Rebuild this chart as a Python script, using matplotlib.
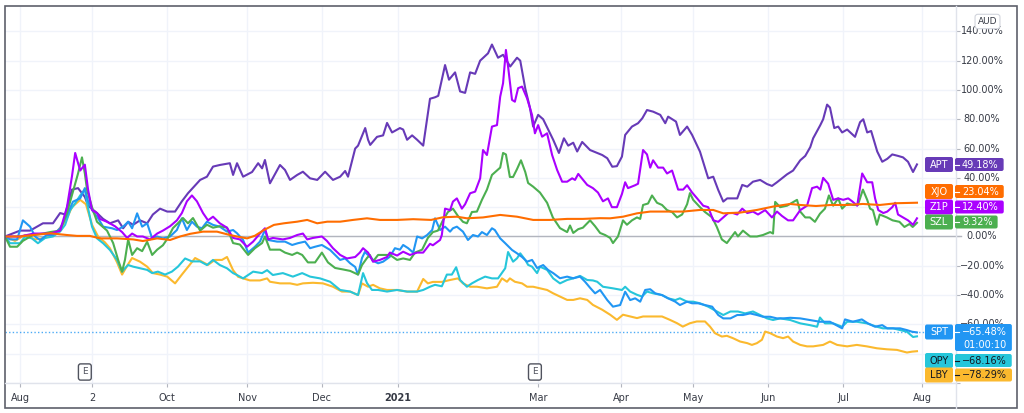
"""Relative performance chart (TradingView style): APT vs peers, Aug 2020 - Jul 2021."""

import matplotlib
matplotlib.use("Agg")
import matplotlib.pyplot as plt
from matplotlib.patches import FancyBboxPatch, Rectangle
from matplotlib.lines import Line2D
from matplotlib.transforms import IdentityTransform, Bbox


# ---------------------------------------------------------------------------
# Data: (trading-day index, % change)
# ---------------------------------------------------------------------------

apt = [(0, 0), (4.2, 4), (7, 4), (10.6, 9), (13.4, 9), (15.4, 16), (16.8, 15), (18.7, 32),
       (20.4, 33), (22.3, 27), (23.2, 21), (25.7, 16), (27.4, 12), (29.3, 9), (31.6, 11),
       (33, 5.6), (34.4, 10), (35.8, 8), (37.7, 11), (39.7, 9), (41.3, 15), (43.3, 19),
       (45.3, 17), (47.5, 17), (49.4, 24), (51.1, 29.5), (54.5, 38.6), (56.4, 40.8),
       (58.1, 47.7), (60, 48.8), (62.8, 50), (63.7, 42), (64.8, 50), (66.5, 40.8), (69, 44),
       (70.7, 50), (71.8, 46.5), (72.6, 52.2), (74, 36.3), (76.8, 48.8), (78.2, 45.4),
       (79.6, 38.6), (81.6, 42), (83.2, 44.2), (85.2, 39.7), (87.2, 38.6), (89.4, 44.2),
       (91.6, 38.6), (93.6, 40.8), (95, 44.7), (95.8, 40.8), (97.8, 60), (98.6, 62),
       (100.6, 74), (101.4, 66), (102, 62.5), (103.9, 68), (105.6, 69), (106.7, 77.5),
       (108.1, 71), (110.3, 74), (111.2, 73), (112.3, 66), (113.7, 69), (115.1, 66),
       (116.8, 62), (118.7, 94), (120.1, 95), (121, 96), (122.9, 117), (124, 107),
       (125.7, 112), (127.1, 99), (128.5, 98), (129.9, 112), (131.3, 111), (132.7, 120),
       (134.9, 125), (136, 131), (137.7, 122), (139.1, 124), (141.1, 116), (143, 122),
       (143.9, 120), (145.3, 101), (146.6, 88), (147.5, 75), (148.9, 83), (150.3, 80),
       (153.1, 66), (154.7, 57), (156.1, 67), (157.3, 62), (158.7, 64), (159.8, 58),
       (161.2, 64.5), (163.4, 59), (165.4, 57), (166.8, 55.6), (168.2, 53.4), (169.6, 47.6),
       (170.9, 48), (172.3, 54.5), (173.2, 69.3), (175.1, 75), (176.8, 77.3), (178, 80.7),
       (179.3, 86.3), (181, 85.2), (183, 83), (184.4, 77.3), (185.2, 81.8), (187.4, 78.4),
       (188.5, 69.3), (190.5, 75), (191.9, 69.3), (194.1, 57.9), (196.4, 39.7),
       (197.8, 40.8), (199.2, 31.7), (200.6, 23.8), (201.7, 26), (204.5, 26), (205.9, 35.2),
       (207.3, 34), (208.9, 37.4), (210.9, 38.6), (212.8, 35.8), (214.2, 34.5), (215.6, 37),
       (217, 39.7), (218.4, 42.4), (220.1, 45), (222.1, 52), (223.5, 55), (224.9, 61),
       (225.7, 67), (227.7, 76), (228.5, 80), (229.6, 90), (230.4, 88), (231.6, 74),
       (232.7, 75), (233.8, 71), (235.2, 73), (237.4, 68), (238.8, 78), (239.7, 80),
       (240.8, 71), (241.9, 72), (243.6, 58), (245, 51), (246.4, 53), (247.8, 56),
       (249.4, 55), (250.8, 54), (252.2, 51), (253.6, 44), (254.7, 49.18)]

xjo = [(0, 0), (4.2, 0), (7.8, 1), (12.6, 2.2), (17.3, 1), (20.1, 0.4), (23.7, 0.4),
       (26.5, -1.3), (31.3, -1.3), (35.8, -2), (38.5, -3.1), (42.5, -1.3), (46.1, -2.4),
       (48.9, 0), (51.7, 1.8), (55.3, 3.3), (59.2, 3.3), (62.8, 1), (64.8, 0), (67.6, -1.3),
       (69.8, 0.5), (72.3, 4.4), (75.1, 7.9), (77.9, 9), (81.6, 10.1), (84.4, 11.3),
       (87.2, 9), (90, 10.1), (93.6, 10.1), (97.2, 11.3), (101.1, 12.4), (104.7, 11.3),
       (109.5, 11.3), (114, 11.8), (119, 11.3), (122.3, 13.1), (126.2, 13.5), (129, 12.4),
       (133.5, 13), (138.3, 14.7), (143, 13.5), (147.5, 11.3), (152.2, 11.3), (157, 12),
       (161.4, 12), (166.2, 12.5), (169, 12.4), (172.6, 13.5), (176.5, 15.8), (180.2, 17),
       (184.9, 17), (189.4, 17), (194.1, 18.1), (197.8, 18.1), (200.6, 15.8), (205.3, 16.3),
       (210, 18.1), (214.5, 20.4), (219.3, 22.2), (222.1, 21.5), (226.5, 20.8),
       (230.7, 21.5), (235.2, 21.5), (239.6, 22.2), (244.3, 21.5), (249, 22.7),
       (254.7, 23.04)]

z1p = [(0, 0), (4.2, 0), (8, 2), (12.6, 2), (15.4, 4), (17.3, 20), (18.7, 41), (19.6, 57),
       (21, 45), (22.3, 49), (23.2, 32), (24.3, 18), (25.7, 16), (26.5, 12), (28.5, 10),
       (30.7, 7), (32.7, 3), (34.1, -1), (35.5, 2), (36.9, 0), (38.5, 0), (40.5, -2),
       (42.5, 2), (44.1, 4), (46.1, 7), (48, 11), (49.4, 16), (50.8, 24), (52.2, 28),
       (53.6, 24), (55.3, 16), (56.7, 11), (58.1, 13.5), (60, 9), (62, 6), (63.7, -1),
       (65.6, -2), (67.6, -7), (69.3, -3.5), (71.2, 2), (72.6, 5.6), (73.5, -2), (74.8, -1),
       (77.6, -2), (79.6, -1), (81.6, 1), (83.2, 2), (84.4, -2), (86, -1), (88.5, 0),
       (89.9, -3), (91.6, -8), (93.6, -12.6), (95.5, -15), (97.8, -14), (99.1, -11),
       (100, -8), (101.4, -11), (102.8, -17.2), (104.7, -16), (106.7, -14), (107.5, -11),
       (109.5, -13), (111.2, -10.4), (113.1, -12.6), (115.1, -11), (116.8, -11),
       (118.7, -5), (119.5, -6), (121.5, -2.4), (122, 1), (122.9, 19), (124.3, 18),
       (125.1, 23.8), (126.2, 26), (127.6, 19), (128.5, 22), (129.9, 29.5), (131.3, 30.6),
       (132.7, 39.7), (133.5, 59), (134.6, 55.6), (136, 75), (137.4, 76), (138.3, 95.4),
       (139.1, 104.6), (139.9, 127.3), (140.5, 116), (141.6, 93.2), (142.4, 92),
       (143.3, 101.2), (144.4, 102.3), (145.8, 94.3), (147.2, 82.9), (148, 70.4),
       (148.9, 76), (150, 68.1), (151.4, 70.4), (152.8, 55.6), (154.2, 45.4), (155.6, 37.4),
       (157, 37.4), (158.4, 39.7), (159.2, 38.6), (160.1, 42.7), (162.6, 35.2),
       (164.2, 33), (165.6, 30), (167, 24), (168.4, 26), (169.5, 20), (170.9, 20),
       (172.3, 29), (173.2, 37), (174, 33), (176, 35), (176.8, 36), (178.2, 59),
       (179.3, 56), (180.2, 47), (181, 52), (182.4, 47), (183.8, 47), (184.9, 43),
       (186.3, 45), (188, 32), (189.4, 32), (190.5, 35), (191.9, 30), (193.3, 26),
       (195, 21), (196.4, 20), (197.8, 11), (199.2, 10), (200.6, 13), (202, 16),
       (203.3, 16), (204.5, 15), (205.9, 19), (207.3, 16), (208.9, 17), (210.3, 15),
       (212.3, 18), (214.2, 13), (215.6, 17), (217, 14), (218.7, 11), (220.1, 11),
       (222.1, 18), (224, 21), (225.4, 33), (226.8, 34), (227.7, 32), (228.5, 40),
       (229.9, 36), (231.3, 25), (232.7, 26), (234.1, 25), (235.5, 26), (236.6, 24),
       (238, 21), (239.4, 43), (240.8, 37), (242.2, 37), (243, 26), (243.9, 18),
       (245.3, 16), (246.4, 17), (247.8, 20), (248.6, 23), (249.4, 15), (250.8, 13),
       (252.2, 11), (253.6, 8), (254.7, 12.40)]

szl = [(0, 0), (1.4, -7), (3.4, -7), (5, -3), (7.8, 1), (10.6, 2), (12.6, 3), (15.4, 4),
       (17.3, 16), (19.6, 36), (20.4, 43), (21.5, 54), (22.3, 43), (22.9, 32), (24.3, 20),
       (25.7, 10), (27.1, 7), (28.5, 4), (30.2, -4.5), (31.6, -16), (32.7, -24),
       (33.5, -16), (34.4, -2), (35.5, -12.6), (36.9, -8), (38.3, -10), (39.7, -3.6),
       (41.1, -12.6), (42.5, -9), (44.1, -6), (45.5, -1), (46.9, 5.7), (48.3, 9),
       (49.7, 12.6), (51.1, 9), (52.5, 12.6), (54.5, 4), (56.4, 8), (58.1, 6), (60, 7),
       (62, 6), (63.7, -4.5), (65.6, -5.5), (67.9, -12.6), (69.8, -8), (71.8, -4.5),
       (72.6, 0), (74, -9), (76.8, -9), (78.2, -11), (80.2, -12.6), (81.6, -11),
       (83, -12.6), (84.6, -17.7), (86.6, -17.7), (88.5, -11), (90.2, -17.7), (92.2, -21.5),
       (94.4, -22.5), (96.4, -23.5), (98.6, -26), (99.7, -19.5), (101.1, -14.7),
       (101.9, -12.6), (102.8, -17), (104.2, -12.6), (105.6, -12.6), (107.5, -12.6),
       (109.5, -16), (111.2, -15), (113.1, -16), (114.5, -11), (116.5, -9), (118.1, -1),
       (119.5, 3), (120.9, 4), (122.3, 11), (123.7, 16.7), (125.1, 19), (126.5, 14),
       (127.9, 10), (129, 9), (130.4, 16.7), (131.8, 17), (133.2, 25), (134.6, 32),
       (136, 42), (137.4, 45), (138.3, 47), (139.1, 57), (139.9, 56), (141, 40.6),
       (141.9, 40.6), (143, 46), (144.1, 52), (145.3, 44), (146.1, 36.5), (147.5, 34),
       (149.4, 30), (151.4, 23), (153, 13), (155, 5.7), (157, 3), (157.8, 7.5),
       (158.7, 2.4), (160.1, 5), (161.4, 6), (163.4, 11), (164.8, 7), (166.2, 2.4),
       (167.6, 1), (169, -1), (169.8, -4.5), (171.2, 0), (172.6, 11), (173.7, 8),
       (175.1, 11), (176.5, 13), (177.4, 12), (178.2, 21.5), (179.6, 22.5), (180.7, 28),
       (182.1, 23), (183.5, 21.5), (184.9, 18), (186.3, 16.7), (187.7, 13), (189.1, 15),
       (190.5, 22), (191.3, 29.6), (192.2, 25), (194.1, 20), (195.5, 16.7), (197.5, 13),
       (198.8, 6.5), (200.2, -2), (201.6, -4.5), (203, 0), (203.9, 3), (204.7, 0),
       (206.1, 4), (208.1, 0), (210, 0), (211.7, 1), (213.7, 3), (214.5, 2), (215.1, 23.6),
       (216.5, 20), (218.4, 21), (221.2, 25), (222.1, 17), (223.5, 13), (224.8, 13),
       (226.2, 10), (227.6, 15.5), (229, 19), (230.1, 28), (231.3, 21), (232.7, 26),
       (233.8, 19), (235.2, 22.5), (236.8, 21.5), (238.2, 21.5), (239.6, 32), (240.8, 25),
       (241.6, 19), (242.4, 18), (243.5, 8), (244.3, 15), (246.3, 13), (247.9, 11),
       (249.8, 10), (251.2, 6.5), (252.6, 8.5), (253.5, 6.5), (254.7, 9.32)]

spt = [(0, 0), (1.4, -2), (3.4, -2), (5, 11), (7, 6.7), (8.4, 0), (9.8, -2.4), (11.7, 1),
       (13.4, 1), (15.4, 5.6), (17.3, 14.7), (19, 23.8), (21, 26), (22.3, 33), (23.2, 24),
       (24.6, 17), (26, 12.4), (27.4, 6.7), (29.9, 5.6), (31.3, 4.4), (33, 6.7),
       (34.4, 10.1), (35.5, 5.6), (36.9, 15.8), (38.3, 6.7), (39.7, 9), (41.1, -1.3),
       (42.5, 0), (44.1, -1.3), (46.1, 0), (48, 4.4), (49.4, 12.4), (50.8, 4.4), (52.2, 10.1),
       (53.6, 6.7), (55, 5.6), (56.4, 10.1), (58.1, 7.9), (60, 6.7), (62, 3.3), (63.7, 4.4),
       (64.8, 2.2), (66.5, -2.4), (67.9, -11), (69.8, -7), (71.2, -3.5), (72.6, 4.4),
       (73.5, -2.4), (76, -3.5), (78.2, -3.5), (80.2, -5.8), (81.8, -4.6), (83.8, -3.5),
       (85.2, -8), (86.6, -7), (88.5, -5.8), (90.8, -9.2), (92.2, -12.6), (93.6, -16),
       (95, -15), (96.4, -18.3), (97.8, -20.8), (98.6, -26), (99.7, -14.7), (100.5, -10.6),
       (101.9, -13.8), (103.3, -17.2), (104.2, -18.3), (105.6, -17.2), (107.5, -13.8),
       (108.9, -8), (110.3, -9), (111.2, -5.8), (112.6, -8), (114, -11), (115.1, 0),
       (116.5, -1.3), (117.9, 1), (119.3, 4.4), (120.1, 12.4), (121.5, 4.4), (122.9, 6.7),
       (124.3, 3.3), (125.1, 5.6), (126.2, 6.7), (127.9, 3.3), (129.3, -2.4), (130.7, 1),
       (132.1, 0), (133.2, 3), (134.6, 1), (136, 5.6), (136.8, 4.4), (138.3, -1.3),
       (139.7, -4.6), (141.6, -9.2), (143, -11.5), (144.4, -14), (145.8, -17.2),
       (147.2, -16), (148.6, -21.5), (150.3, -19.5), (151.7, -22.9), (153.1, -25),
       (155, -28.5), (157, -27.4), (158.7, -28.5), (160.6, -27.4), (162, -30.9),
       (163.4, -35), (164.8, -38.8), (166.2, -36.5), (168.2, -43.4), (169.8, -47.9),
       (171.8, -46.8), (173.2, -37.7), (174.6, -43.4), (176, -42.2), (177.4, -44.5),
       (178.8, -36.5), (180.2, -36), (181.6, -38.8), (183.5, -40), (185.2, -42.2),
       (187.2, -44.5), (188.5, -46.8), (190.5, -44.5), (191.9, -45.6), (193.6, -45.6),
       (195.5, -46.8), (197.5, -47.9), (199.2, -53.6), (200.6, -55.9), (202.6, -55.9),
       (204.5, -53.6), (206.1, -53.6), (208.1, -52.5), (210, -53.6), (211.7, -54.8),
       (213.7, -54.8), (215.6, -55.9), (217.3, -55.9), (219.3, -55.5), (222.1, -55.9),
       (224.8, -57), (227.6, -58.2), (230.4, -58.2), (233.8, -62.7), (234.6, -56.6),
       (236.8, -58.2), (239.3, -56.6), (241, -59.3), (243, -61.6), (245, -60.5),
       (246.4, -62.7), (248, -62.7), (250, -62.7), (251.9, -63.9), (253.3, -65),
       (254.7, -65.48)]

opy = [(0, 0), (1.4, -4.6), (4.2, -4.6), (5.6, 0), (7.5, -1.3), (9.2, -4.6), (11.2, -1),
       (13.4, 0), (15.4, 3.4), (16.8, 8), (18.2, 18), (19.6, 22.7), (21, 28), (22.3, 32),
       (23.2, 19.3), (24.3, 6.7), (25.7, -1.3), (27.4, -4.6), (29.3, -9.2), (31.3, -16),
       (32.7, -24), (33.5, -21.7), (34.4, -19.5), (35.8, -20.6), (37.7, -21.7),
       (39.7, -22.8), (41.1, -25), (42.7, -24), (44.7, -26), (46.6, -24), (48.3, -20.6),
       (50.3, -15), (52.2, -17), (54.5, -17), (56.4, -19.5), (58.1, -16), (60, -19.5),
       (62, -21.7), (63.7, -25), (64.8, -26.3), (66.5, -28.6), (69.3, -24), (71.8, -25),
       (73.2, -23), (74.8, -26.3), (77.6, -25), (80.4, -27.4), (83, -25), (85.2, -27.4),
       (88, -28.6), (90.8, -30.9), (93.6, -36.5), (96.4, -37.6), (98.6, -40), (100, -25),
       (101.1, -31.8), (102.5, -36.5), (104.2, -36.5), (106.7, -37.6), (109.5, -36.5),
       (112.3, -37.6), (115.1, -37.6), (116.8, -36.5), (118.7, -34.3), (120.1, -33),
       (122, -34), (123.4, -26), (124.8, -26), (126, -21), (127.1, -29.7), (129, -34.3),
       (130.4, -32), (132.1, -29.7), (134.1, -27.4), (136, -28.6), (137.7, -28.6),
       (139.7, -21.7), (140.5, -10.6), (141.9, -17.2), (143, -14.9), (143.9, -11.5),
       (145.3, -16), (146.1, -19.4), (147.2, -20.6), (148.6, -25), (149.4, -20.6),
       (151.4, -22.8), (153.1, -28.6), (155, -32), (157, -29.7), (158.7, -28.6),
       (160.6, -26.9), (162.6, -29.7), (164.2, -30), (165.4, -30.9), (167, -34.3),
       (169.8, -35.4), (172.3, -36.5), (173.2, -34.3), (174.6, -37.6), (176.5, -39.8),
       (177.9, -41), (179.3, -37.6), (181, -38.8), (183.5, -40), (185.2, -42.2),
       (187.2, -43.4), (188.5, -42.2), (190.5, -44.5), (192.2, -44.5), (194.1, -45.6),
       (196.4, -47.9), (198.8, -51.2), (200.6, -53.6), (202.6, -51.2), (204.7, -51.2),
       (206.7, -52.5), (208.9, -51.2), (210.9, -53.6), (212.8, -55.9), (214.5, -57),
       (216.5, -55.9), (218.4, -56.6), (219.3, -57), (222.1, -59.3), (224.8, -60.5),
       (226.8, -61.6), (227.6, -55.3), (229, -59.3), (231.3, -59.3), (233.8, -61.6),
       (235.2, -58.2), (237.9, -58.2), (240.7, -59.3), (243.5, -61.6), (245.2, -62.7),
       (248, -62.7), (250, -63.9), (251.9, -65), (253.6, -68.6), (254.7, -68.16)]

lby = [(0, 0), (2.8, -3), (5.6, 1), (8.4, -2), (11.2, -1), (14, 2), (16.8, 10), (18.7, 20),
       (21, 25), (22.6, 22), (24.3, 8), (26, 0), (27.9, -4), (29.3, -8), (31.3, -17.7),
       (32.7, -26), (34.1, -20), (35.5, -14.7), (37.7, -17.2), (39.7, -20.6), (41.3, -25),
       (43.3, -26), (45.3, -27.4), (47.5, -32), (49.4, -26), (51.1, -20.8), (53.1, -14.7),
       (55, -17.2), (56.7, -19.4), (58.6, -16), (60.6, -16), (62, -14), (62.8, -18.3),
       (63.7, -23), (65.1, -27.5), (66.5, -28.6), (68.4, -30), (71.2, -30), (73.2, -28.6),
       (74, -30.9), (76.8, -32), (79.6, -32), (81.6, -33), (83.2, -32), (86, -31.6),
       (88.8, -32), (91.6, -34.3), (94.1, -37.6), (96.4, -37.6), (98.6, -40), (99.7, -32),
       (101.4, -34.3), (102.8, -33), (104.7, -35.4), (106.7, -36.5), (109.5, -36.5),
       (112.3, -37.6), (115.1, -37.6), (116.8, -29), (118.1, -32), (119.5, -31),
       (122, -31), (124.3, -29.7), (126.5, -28.6), (127.9, -32), (129.9, -34.3),
       (131.8, -34.3), (134.6, -35.4), (137.4, -34.3), (138.8, -28.6), (140.2, -30.9),
       (141, -28.6), (142.4, -30.9), (144.4, -32), (145.8, -34.3), (147.5, -34.3),
       (149.4, -35.4), (151.4, -36.5), (153.1, -38.8), (155, -41), (157, -43.3),
       (158.7, -43.3), (160.6, -42.2), (162.6, -43.3), (164.2, -46.7), (166.8, -50),
       (169, -53.4), (170.9, -56.9), (172.6, -53.4), (174.6, -54.6), (176.5, -55.7),
       (178.2, -54.6), (181, -54.6), (183.5, -54.6), (185.7, -56.9), (187.7, -59.2),
       (189.3, -61.5), (191.3, -59.2), (193.2, -58), (195.5, -58), (196.9, -61.5),
       (198.3, -66), (200.2, -68.3), (201.6, -67.8), (203.3, -69.4), (205.3, -71.7),
       (207.3, -72.8), (208.6, -74), (210, -72.8), (211.4, -70.5), (212.3, -64.9),
       (213.7, -66), (215.6, -68.3), (217.3, -69.4), (218.7, -68.3), (220.1, -71.7),
       (222.1, -74), (224, -75), (225.7, -75), (228.5, -74), (230.4, -71.7), (232.4, -74),
       (235.2, -75), (237.9, -74), (240.7, -75), (243.5, -76.3), (246.3, -77),
       (249.1, -77.4), (251.9, -79.2), (253.3, -78.6), (254.7, -78.29)]

month_day = [4.2, 24.3, 45.3, 67.6, 88.5, 109.8, 148.9, 172.1, 192.2, 213.1, 234.1, 256.1]
month_lbl = ["Aug", "2", "Oct", "Nov", "Dec", "2021", "Mar", "Apr", "May", "Jun", "Jul", "Aug"]
price_ticks = [-60, -40, -20, 0, 20, 40, 60, 80, 100, 120, 140]
earnings_day = [22.3, 148.0]
countdown = "01:00:10"

SERIES = {"APT": apt, "XJO": xjo, "Z1P": z1p, "SZL": szl, "SPT": spt, "OPY": opy, "LBY": lby}
COLORS = {"APT": "#673ab7", "XJO": "#ff6d00", "Z1P": "#aa00ff", "SZL": "#4caf50",
          "SPT": "#2196f3", "OPY": "#26c6da", "LBY": "#fbb92e"}
BADGE_TEXT = {"OPY": "#131722", "LBY": "#131722"}
# label stacking on the price scale (pixel rows, top-left origin)
BADGE_Y = {"APT": 164.5, "XJO": 191.5, "Z1P": 207, "SZL": 222, "SPT": 332, "OPY": 360.5,
           "LBY": 375}
DRAW_ORDER = ["APT", "LBY", "OPY", "SPT", "SZL", "Z1P", "XJO"]

W, H = 1024, 413
TEXT = "#363a45"
GRID = "#f0f3fa"
SEP = "#e0e3eb"


def fig_xy(x, y):
    """pixel (top-left origin) -> figure fraction"""
    return x / W, 1 - y / H


fig = plt.figure(figsize=(W / 100, H / 100), dpi=100)
fig.patch.set_facecolor("white")
ax = fig.add_axes([5 / W, 1 - 383 / H, 951 / W, 377 / H])

for name in DRAW_ORDER:
    days = [d for d, _ in SERIES[name]]
    pct = [p for _, p in SERIES[name]]
    ax.plot(days, pct, color=COLORS[name], lw=1.5, solid_joinstyle="round", zorder=3)

ax.axhline(0, color="#b2b5be", lw=1, xmax=1.005, clip_on=False, zorder=2)
ax.axhline(spt[-1][1], color=COLORS["SPT"], lw=1, ls=(0, (1, 1.6)), alpha=0.8, zorder=2)

ax.set_xlim(0, 265.6)
ax.set_ylim(-100.0, 157.3)
for sp in ax.spines.values():
    sp.set_visible(False)

ax.set_xticks(month_day)
ax.set_xticklabels(month_lbl)
for lbl in ax.get_xticklabels():
    if lbl.get_text() == "2021":
        lbl.set_fontweight("bold")
ax.set_yticks(range(-100, 141, 20))
ax.yaxis.tick_right()
ax.tick_params(axis="y", length=3, color="#b2b5be", labelright=False)
ax.tick_params(axis="x", length=3, color="#b2b5be", labelsize=7, labelcolor=TEXT, pad=4)
ax.grid(True, color=GRID, lw=1)
ax.set_axisbelow(True)

# price scale labels (centred); the -60% one is half hidden by the SPT badge
ytrans = ax.get_yaxis_transform()
above_spt_badge = Bbox.from_extents(956, H - 324, 1017, H - 6)
for v in price_ticks:
    t = ax.text(1.0273, v, f"{v:.2f}%".replace("-", "\u2212"), transform=ytrans,
                ha="center", va="center", fontsize=7, color=TEXT, clip_on=False)
    if v == -60:
        t.set_clip_on(True)
        t.set_clip_box(above_spt_badge)

# earnings markers
for d in earnings_day:
    ax.annotate("E", xy=(d, 0), xycoords=("data", "axes fraction"), xytext=(0, 11),
                textcoords="offset pixels", ha="center", va="center", fontsize=6.5,
                color="#50535e",
                bbox=dict(boxstyle="round,pad=0.4,rounding_size=0.25", fc="white",
                          ec="#50535e", lw=1))

# separators and outer frame
fig.add_artist(Line2D([956 / W, 956 / W], [1 - 6 / H, 1 - 408 / H], color=SEP, lw=1))
fig.add_artist(Line2D([5 / W, 956 / W], [1 - 383 / H, 1 - 383 / H], color=SEP, lw=1))
fig.add_artist(Rectangle(fig_xy(5, 408), 1012 / W, 402 / H, fill=False,
                         ec="#5d606b", lw=1.2))

fig.text(*fig_xy(987.5, 21.5), "AUD", ha="center", va="center", fontsize=6.5, color=TEXT,
         bbox=dict(boxstyle="round,pad=0.3", fc="white", ec="#d1d4dc", lw=0.8))

# last-value badges
renderer = fig.canvas.get_renderer()
ident = IdentityTransform()
for name, data in SERIES.items():
    col = COLORS[name]
    tc = BADGE_TEXT.get(name, "white")
    yc = BADGE_Y[name]
    top, bot = yc - 6.5, yc + 6.5
    if name == "SPT":
        top, bot = 324, 351
    fig.add_artist(FancyBboxPatch((925, H - (yc + 7.5)), 28, 15,
                                  boxstyle="round,pad=0,rounding_size=2",
                                  fc=col, ec="none", transform=ident, zorder=4))
    fig.text(*fig_xy(939, yc), name, ha="center", va="center", fontsize=7, color=tc, zorder=6)
    val = f"{data[-1][1]:.2f}%".replace("-", "\u2212")
    t = fig.text(*fig_xy(962, yc), val, ha="left", va="center", fontsize=7, color=tc,
                 zorder=6)
    x_end = t.get_window_extent(renderer).x1 + 5
    if name == "SPT":
        fig.text(*fig_xy(963, 344.5), countdown, ha="left", va="center", fontsize=7,
                 color=tc, zorder=6)
        x_end = max(x_end, 1010)
    fig.add_artist(FancyBboxPatch((955, H - bot), x_end - 955, bot - top,
                                  boxstyle="round,pad=0,rounding_size=2",
                                  fc=col, ec="none", transform=ident, zorder=4))
    fig.add_artist(Line2D([955, 959], [H - yc, H - yc], color=tc, lw=0.8,
                          transform=ident, zorder=5))

fig.savefig("out.png", dpi=100)
